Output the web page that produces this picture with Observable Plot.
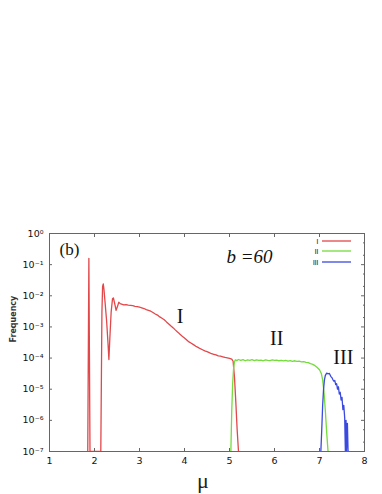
<!DOCTYPE html>
<html><head><meta charset="utf-8">
<script src="https://cdn.jsdelivr.net/npm/d3@7"></script>
<script src="https://cdn.jsdelivr.net/npm/@observablehq/plot@0.6"></script>
<style>
body{margin:0;background:#fff;}
#wrap{position:relative;width:382px;height:494px;}
#legend{position:absolute;left:0;top:0;}
</style></head><body><div id="wrap"></div>
<script>
const seriesNames = ["I", "II", "III"];
const seriesColors = ["#e2474a", "#74dc3c", "#3a4ae0"];

const muI = [1.85, 1.875, 1.9, 2.14, 2.165, 2.18, 2.195, 2.21, 2.24, 2.27, 2.3, 2.32, 2.34, 2.37, 2.4, 2.42, 2.45, 2.48, 2.51, 2.54, 2.57,
  2.6, 2.65, 2.7, 2.75, 2.8, 2.85, 2.9, 2.95, 3.0, 3.05, 3.1, 3.15, 3.2, 3.25, 3.3, 3.35, 3.4, 3.45, 3.5, 3.55, 3.6, 3.65, 3.7, 3.75,
  3.8, 3.85, 3.9, 3.95, 4.0, 4.05, 4.1, 4.15, 4.2, 4.25, 4.3, 4.35, 4.4, 4.45, 4.5, 4.55, 4.6, 4.65, 4.7, 4.75, 4.8, 4.85, 4.9, 4.95,
  5.0, 5.05, 5.08, 5.11, 5.14, 5.17, 5.2];
const freqI = [1e-7, 0.16, 1e-7, 1e-7, 3e-3, 0.02, 0.024, 0.016, 5e-3, 1.5e-3, 3e-4, 9e-5, 4e-4, 3e-3, 8e-3, 8.5e-3, 5.5e-3, 3.4e-3, 4.5e-3, 6.2e-3, 5.6e-3,
  5.4e-3, 5.1e-3, 5.2e-3, 5.0e-3, 4.9e-3, 4.8e-3, 4.6e-3, 4.5e-3, 4.3e-3, 4.1e-3, 3.9e-3, 3.6e-3, 3.4e-3, 3.2e-3, 2.9e-3, 2.6e-3, 2.4e-3, 2.1e-3, 1.9e-3, 1.7e-3, 1.45e-3, 1.25e-3, 1.07e-3, 9.3e-4,
  7.9e-4, 6.8e-4, 5.8e-4, 5.0e-4, 4.4e-4, 3.8e-4, 3.3e-4, 3.0e-4, 2.7e-4, 2.4e-4, 2.2e-4, 2.0e-4, 1.85e-4, 1.7e-4, 1.6e-4, 1.5e-4, 1.38e-4, 1.32e-4, 1.26e-4, 1.17e-4, 1.15e-4, 1.1e-4, 1.05e-4, 1.02e-4,
  9.8e-5, 9.3e-5, 7.9e-5, 2.5e-5, 4e-6, 5e-7, 1e-7];

const muII = [5.03, 5.05, 5.07, 5.09, 5.11, 5.13, 5.16, 5.2, 5.25, 5.3, 5.35, 5.4, 5.45, 5.5, 5.55, 5.6, 5.65, 5.7, 5.75, 5.8, 5.85, 5.9, 5.95,
  6.0, 6.05, 6.1, 6.15, 6.2, 6.25, 6.3, 6.35, 6.4, 6.45, 6.5, 6.55, 6.6, 6.65, 6.7, 6.75, 6.8, 6.85, 6.9, 6.95, 7.0, 7.04, 7.07, 7.1, 7.13, 7.16, 7.19];
const freqII = [1e-7, 2e-6, 1.5e-5, 4.5e-5, 7.5e-5, 8.8e-5, 8.3e-5, 9.0e-5, 8.4e-5, 8.9e-5, 8.2e-5, 8.7e-5, 8.5e-5, 8.9e-5, 8.3e-5, 8.8e-5, 8.4e-5, 8.6e-5, 8.2e-5, 8.8e-5, 8.5e-5, 8.3e-5, 8.7e-5,
  8.4e-5, 8.6e-5, 8.2e-5, 8.5e-5, 8.1e-5, 8.4e-5, 8.0e-5, 8.3e-5, 7.9e-5, 8.2e-5, 7.8e-5, 8.0e-5, 7.6e-5, 7.7e-5, 7.3e-5, 7.1e-5, 6.6e-5, 6.3e-5, 5.7e-5, 5.0e-5, 4.2e-5, 3.2e-5, 2e-5, 8e-6, 2e-6, 4e-7, 1e-7];

const muIII = [7.03, 7.05, 7.07, 7.09, 7.11, 7.13, 7.16, 7.19, 7.22, 7.25, 7.28, 7.3, 7.32, 7.34, 7.36, 7.38, 7.4, 7.42, 7.44, 7.46, 7.48, 7.5,
  7.52, 7.54, 7.56, 7.575, 7.59, 7.6, 7.62, 7.635, 7.65];
const freqIII = [1e-7, 5e-7, 3e-6, 1e-5, 2e-5, 2.8e-5, 3.3e-5, 3.1e-5, 3.2e-5, 2.6e-5, 2.3e-5, 2.0e-5, 1.8e-5, 1.9e-5, 1.4e-5, 1.5e-5, 1.0e-5, 1.2e-5, 7e-6, 8e-6, 4.5e-6, 5.5e-6,
  2.2e-6, 3e-6, 1.2e-6, 1e-7, 1e-6, 1e-7, 8e-7, 1e-7, 1e-7];

const xTicks = [1, 2, 3, 4, 5, 6, 7, 8];
const yTicks = [1e-7, 1e-6, 1e-5, 1e-4, 1e-3, 1e-2, 1e-1, 1];
const yTickLabels = ["10⁻⁷", "10⁻⁶", "10⁻⁵", "10⁻⁴", "10⁻³", "10⁻²", "10⁻¹", "10⁰"];
const yMinorTicks = [2e-7, 5e-7, 2e-6, 5e-6, 2e-5, 5e-5, 2e-4, 5e-4, 2e-3, 5e-3, 2e-2, 5e-2, 0.2, 0.5];

const regionLabels = ["I", "II", "III"];
const regionMu = [3.9, 6.05, 7.53];
const regionFreq = [2.1e-3, 4.3e-4, 1.07e-4];

const rows = [];
muI.forEach((m, i) => rows.push({mu: m, f: freqI[i], s: "I"}));
muII.forEach((m, i) => rows.push({mu: m, f: freqII[i], s: "II"}));
muIII.forEach((m, i) => rows.push({mu: m, f: freqIII[i], s: "III"}));
const regions = regionLabels.map((t, i) => ({t, mu: regionMu[i], f: regionFreq[i]}));

const axisColor = "#666";
const plot = Plot.plot({
  width: 382, height: 494,
  marginTop: 233, marginBottom: 43, marginLeft: 49, marginRight: 18,
  style: {background: "#fff", fontFamily: "DejaVu Sans", color: "#222"},
  x: {domain: [1, 8]},
  y: {type: "log", domain: [1e-7, 1]},
  color: {domain: seriesNames, range: seriesColors},
  marks: [
    Plot.line(rows, {x: "mu", y: "f", z: "s", stroke: "s", strokeWidth: 1.3, clip: true}),
    Plot.frame({stroke: axisColor}),
    Plot.axisX({ticks: xTicks, tickSize: 0, tickPadding: 6, label: null, fontSize: 9.5, fill: "#111", tickFormat: d => String(d)}),
    Plot.axisX({ticks: xTicks, tickSize: -3, tickFormat: () => "", label: null, stroke: axisColor}),
    Plot.axisX({anchor: "top", ticks: xTicks, tickSize: -3, tickFormat: () => "", label: null, stroke: axisColor}),
    Plot.axisY({ticks: yTicks, tickSize: 0, tickPadding: 6, fontSize: 9.5, fill: "#111", label: null, tickFormat: d => yTickLabels[yTicks.indexOf(d)]}),
    Plot.axisY({ticks: yTicks, tickSize: -3, tickFormat: () => "", label: null, stroke: axisColor}),
    Plot.axisY({anchor: "right", ticks: yTicks, tickSize: -4, tickFormat: () => "", label: null, stroke: axisColor}),
    Plot.axisY({anchor: "right", ticks: yMinorTicks, tickSize: -2, tickFormat: () => "", label: null, stroke: axisColor}),
    Plot.text(regions, {x: "mu", y: "f", text: "t", fontFamily: "Liberation Serif", fontSize: 20, fill: "#111"}),
    Plot.text(["(b)"], {frameAnchor: "top-left", textAnchor: "start", lineAnchor: "middle", dx: 10, dy: 16, fontFamily: "Liberation Serif", fontSize: 17, fill: "#111"}),
    Plot.text(["b =60"], {frameAnchor: "top-left", textAnchor: "start", lineAnchor: "middle", dx: 177, dy: 23, fontFamily: "Liberation Serif", fontStyle: "italic", fontSize: 19, fill: "#111"}),
    Plot.text(["Frequency"], {frameAnchor: "left", rotate: -90, dx: -36, fontSize: 8, fontWeight: "bold", fill: "#333"}),
    Plot.text(["μ"], {frameAnchor: "bottom", lineAnchor: "middle", dx: -4, dy: 29, fontFamily: "Liberation Serif", fontSize: 22, fill: "#222"})
  ]
});
const wrap = document.getElementById("wrap");
wrap.appendChild(plot);

// legend overlay
const leg = d3.select(wrap).append("svg").attr("id", "legend").attr("width", 382).attr("height", 494);
const legY = [241, 251, 262];
seriesNames.forEach((n, i) => {
  leg.append("line").attr("x1", 322).attr("x2", 351).attr("y1", legY[i]).attr("y2", legY[i])
    .attr("stroke", seriesColors[i]).attr("stroke-width", 1.3);
  leg.append("text").attr("x", 318).attr("y", legY[i]).attr("dy", "0.35em").attr("text-anchor", "end")
    .attr("font-family", "Liberation Sans").attr("font-size", 8).attr("letter-spacing", -0.5).attr("fill", "#333").text(n);
});
</script></body></html>
